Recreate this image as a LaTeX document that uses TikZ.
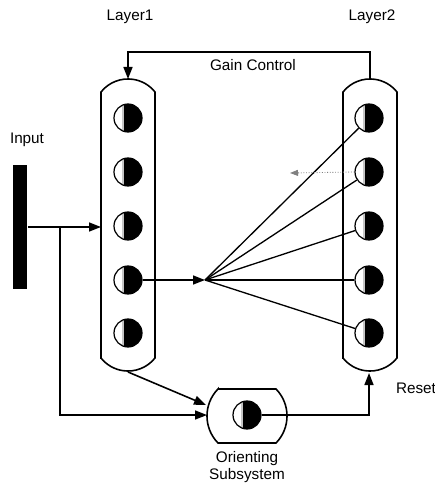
\documentclass[tikz,border=0pt]{standalone}
\usepackage{fontspec}
\setmainfont{Liberation Sans}
\usetikzlibrary{arrows.meta, positioning}

\begin{document}
\begin{tikzpicture}[x=0.02cm, y=-0.02cm, line width=0.9pt,
  neuron/.style={circle, draw, line width=0.7pt, minimum size=0.56cm, inner sep=0pt,
    path picture={\fill[black] ([xshift=-2.5pt]path picture bounding box.north) rectangle (path picture bounding box.south east);
      \fill[gray!45] ([xshift=-3.6pt]path picture bounding box.north) rectangle ([xshift=-2.5pt]path picture bounding box.south);}},
  flow/.style={-{Triangle[length=0.24cm, width=0.18cm]}},
  lbl/.style={font=\fontsize{8.7}{9.6}\selectfont, align=center}]
  \useasboundingbox (0,0) rectangle (435,489);
  % layers
  \draw (101,358) -- (101,92) arc[start angle=-141.5, end angle=-38.5, radius=34.5] -- (155,358) arc[start angle=38.5, end angle=141.5, radius=34.5] -- cycle;
  \draw (343,358) -- (343,92) arc[start angle=-141.5, end angle=-38.5, radius=34.5] -- (397,358) arc[start angle=38.5, end angle=141.5, radius=34.5] -- cycle;
  \foreach \i/\y in {1/118, 2/172, 3/226, 4/280, 5/333} {
    \node[neuron] (l1n\i) at (128,\y) {};
    \node[neuron] (l2n\i) at (369,\y) {};
  }
  % orienting subsystem
  \draw (218,389) -- (276,389) arc[start angle=-44.4, end angle=44.4, radius=38.6] -- (218,443) arc[start angle=135.6, end angle=224.4, radius=38.6] -- cycle;
  \node[neuron] (os) at (247,415) {};
  \node[fill=black, minimum width=0.28cm, minimum height=2.5cm, inner sep=0pt] (inp) at (20,227) {};
  % labels
  \node[lbl] (lay1) at (130,17) {Layer1};
  \node[lbl] (lay2) at (372,17) {Layer2};
  \node[lbl] (gain) at (253,65) {Gain Control};
  \node[lbl] (inlbl) at (27,140) {Input};
  \node[lbl] (oslbl) at (247,467) {Orienting\\Subsystem};
  \node[lbl] (reset) at (416,388) {Reset};
  % connections
  \coordinate (l1in) at (101,227);
  \coordinate (br) at (60,227);
  \coordinate (osw) at (207,415);
  \coordinate (fan) at (205,280);
  \coordinate (l1top) at (128,79);
  \coordinate (l2top) at (370,79);
  \coordinate (l1bot) at (128,372);
  \coordinate (osnw) at (206,405);
  \coordinate (l2bot) at (369,373);
  \coordinate (fb) at (290,173);
  \draw[flow] (inp.east |- l1in) -- (l1in);
  \draw[flow] (br) |- (osw);
  \draw[flow] (l1n4) -- (fan);
  \foreach \i in {1,...,5}
    \draw[line width=0.75pt] (fan) -- (l2n\i);
  \draw[flow] (l2top) -- ++(0,-27) -| (l1top);
  \draw[flow] (l1bot) -- (osnw);
  \draw[flow] (os.east) -- (l2bot |- os) -- (l2bot);
  \draw[gray, densely dotted, line width=0.5pt, -{Triangle[length=0.16cm, width=0.12cm]}] (l2n2.west) -- (fb);
\end{tikzpicture}
\end{document}
